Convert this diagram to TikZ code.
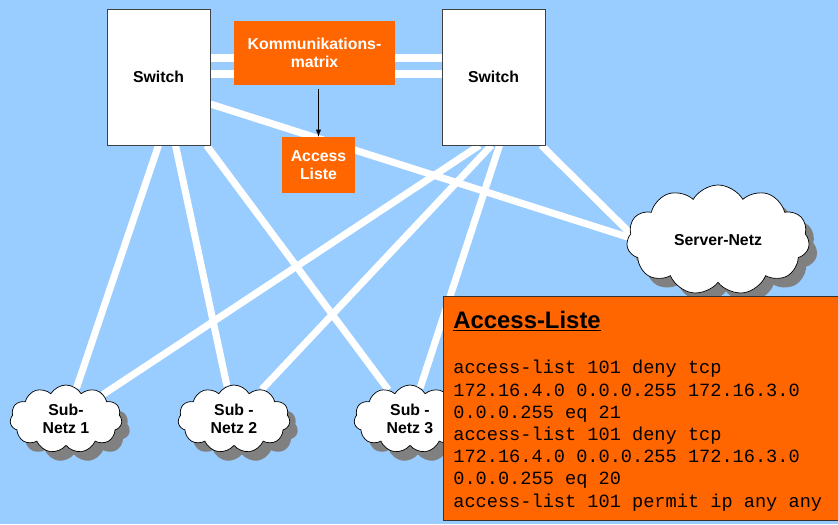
\documentclass[tikz,border=0pt]{standalone}
\usepackage{fontspec}
\setmainfont{Liberation Sans}
\setmonofont{Liberation Mono}
\usetikzlibrary{shapes.symbols,shadows,positioning}
\definecolor{bgblue}{HTML}{99CCFF}
\definecolor{netorange}{HTML}{FF6600}
\pgfdeclarelayer{bg}
\pgfdeclarelayer{links}
\pgfsetlayers{bg,links,main}

\begin{document}
\begin{tikzpicture}[x=0.02cm,y=-0.02cm,
    labelfont/.style={font=\fontsize{9}{10.3}\selectfont\bfseries},
    switchbox/.style={draw=black!75,fill=white,minimum width=2.06cm,minimum height=2.72cm,labelfont},
    orangebox/.style={fill=netorange,text=white,align=center,labelfont},
    netcloud/.style={cloud,cloud puffs=11,cloud puff arc=120,cloud ignores aspect,draw=black,fill=white,
      align=center,inner sep=0pt,labelfont,
      drop shadow={shadow xshift=0.16cm,shadow yshift=-0.18cm,fill=black!50,opacity=1}},
    link/.style={white,line width=4pt}]
  \useasboundingbox (0,0) rectangle (838,524);
  \begin{pgfonlayer}{bg}
    \fill[bgblue] (0,0) rectangle (838,524);
  \end{pgfonlayer}

  % switches and boxes
  \node[switchbox] (swL) at (158.5,77) {Switch};
  \node[switchbox] (swR) at (493.5,77) {Switch};
  \node[orangebox,minimum width=3.22cm,minimum height=1.28cm] (matrix) at (314.5,53) {Kommunikations-\\matrix};
  \node[orangebox,minimum width=1.46cm,minimum height=1.12cm] (acc) at (318.5,165) {Access\\Liste};

  % networks
  \node[netcloud,minimum width=2.24cm,minimum height=1.36cm] (sub1) at (66,419) {Sub-\\Netz 1};
  \node[netcloud,minimum width=2.24cm,minimum height=1.36cm] (sub2) at (234,419) {Sub -\\Netz 2};
  \node[netcloud,minimum width=2.24cm,minimum height=1.36cm] (sub3) at (410,419) {Sub -\\Netz 3};
  \node[netcloud,minimum width=3.66cm,minimum height=2.2cm] (server) at (718,240) {Server-Netz};

  \draw[->,>=latex,shorten <=2pt] (matrix.south -| acc.north) -- (acc.north);

  \begin{pgfonlayer}{links}
    \draw[link] ([shift={(0,-19)}]swL.east) -- ([shift={(0,-19)}]swR.west);
    \draw[link] ([shift={(0,-3)}]swL.east) -- ([shift={(0,-3)}]swR.west);
    \draw[link] (swL.south) -- (sub1);
    \draw[link] ([shift={(17,0)}]swL.south) -- (sub2);
    \draw[link] ([shift={(48,0)}]swL.south) -- (sub3);
    \draw[link] ([shift={(0,27)}]swL.east) -- ([shift={(10,0)}]server.west);
    \draw[link] ([shift={(-14,0)}]swR.south) -- (sub1);
    \draw[link] ([shift={(-2,0)}]swR.south) -- (sub2);
    \draw[link] ([shift={(6,0)}]swR.south) -- ([shift={(22,-20)}]sub3);
    \draw[link] ([shift={(-4,0)}]swR.south east) -- ([shift={(10,0)}]server.west);
  \end{pgfonlayer}

  % access list
  \node[draw=black!80,fill=netorange,minimum width=8cm,minimum height=4.48cm,anchor=north west] (acl) at (443,296) {};
  \node[anchor=base west,inner sep=0pt,font=\fontsize{13.6}{16}\selectfont\bfseries] (acltitle)
    at ([shift={(10,32)}]acl.north west) {\underline{Access-Liste}};
  \node[anchor=north west,inner sep=0pt,align=left,font=\ttfamily\fontsize{10.6}{12.65}\selectfont] (acltext)
    at ([shift={(10,64)}]acl.north west) {access-list 101 deny tcp\\
    172.16.4.0 0.0.0.255 172.16.3.0\\
    0.0.0.255 eq 21\\
    access-list 101 deny tcp\\
    172.16.4.0 0.0.0.255 172.16.3.0\\
    0.0.0.255 eq 20\\
    access-list 101 permit ip any any};
\end{tikzpicture}
\end{document}
